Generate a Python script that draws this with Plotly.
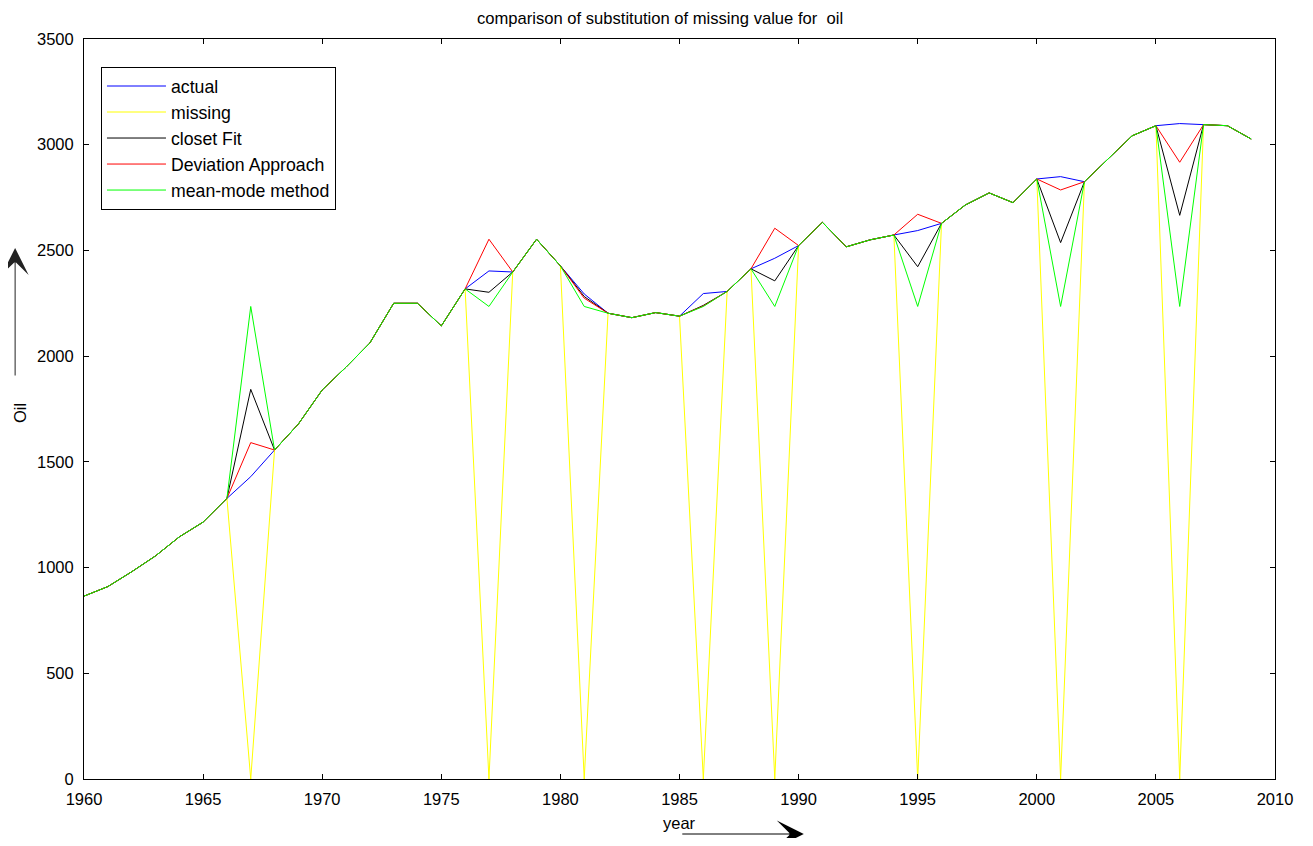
import plotly.graph_objects as go

years = list(range(1960, 2010))
actual = [865, 910, 980, 1055, 1145, 1215, 1327, 1430, 1556, 1679,
          1840, 1948, 2062, 2250, 2250, 2143, 2318, 2403, 2398, 2553,
          2427, 2294, 2203, 2182, 2206, 2189, 2296, 2306, 2413, 2463,
          2523, 2633, 2517, 2550, 2573, 2594, 2628, 2715, 2772, 2726,
          2838, 2849, 2825, 2936, 3042, 3090, 3100, 3095, 3090, 3027]
missing_years = [1967, 1977, 1981, 1986, 1989, 1995, 2001, 2006]
closet_fit_est = [1843, 2302, 2282, 2240, 2356, 2423, 2537, 2666]
deviation_est = [1591, 2553, 2274, 2237, 2605, 2671, 2786, 2917]
mean_mode_est = [2235, 2235, 2235, 2235, 2235, 2235, 2235, 2235]


def fill(estimates):
    vals = list(actual)
    for yr, v in zip(missing_years, estimates):
        vals[years.index(yr)] = v
    return vals


series = [
    ("actual", actual, "#0000FF"),
    ("missing", fill([0] * len(missing_years)), "#FFFF00"),
    ("closet Fit", fill(closet_fit_est), "#000000"),
    ("Deviation Approach", fill(deviation_est), "#FF0000"),
    ("mean-mode method", fill(mean_mode_est), "#00FF00"),
]

FONT = "Liberation Sans, Arial, sans-serif"
fig = go.Figure()
for name, vals, col in series:
    fig.add_trace(go.Scatter(x=years, y=vals, mode="lines", name=name,
                             line=dict(color=col, width=1)))

# page has an 8px body margin; figure sized to fit the window
OFF = 8
W, H = 1313 - 2 * OFF, 846 - 2 * OFF
# plot area in page pixels
P_L, P_R, P_T, P_B = 84, 1277, 39, 779
L, T = P_L - OFF, P_T - OFF
R = W - (P_R - OFF)
B = H - (P_B - OFF)
pw, ph = P_R - P_L, P_B - P_T


def px2paper(px, py):
    return (px - P_L) / pw, (P_B - py) / ph


lx, ly = px2paper(101, 67)
fig.update_layout(
    width=W, height=H,
    margin=dict(l=L, r=R, t=T, b=B),
    paper_bgcolor="white", plot_bgcolor="white",
    font=dict(family=FONT, size=16.5, color="black"),
    title=dict(text="comparison of substitution of missing value for&nbsp;&nbsp;oil",
               x=(661 - P_L) / pw, xref="paper", xanchor="center",
               y=1 - (18 - OFF) / H, yref="container", yanchor="middle",
               font=dict(family=FONT, size=16.6, color="black")),
    showlegend=True,
    legend=dict(x=lx, y=ly, xanchor="left", yanchor="top",
                bgcolor="white", bordercolor="black", borderwidth=1,
                font=dict(family=FONT, size=17.7, color="black"),
                itemwidth=59, traceorder="normal"),
    xaxis=dict(range=[1960, 2010], tickmode="linear", tick0=1960, dtick=5,
               ticks="inside", ticklen=5, tickcolor="black",
               showline=True, linecolor="black", linewidth=1, mirror="ticks",
               showgrid=False, zeroline=False, ticklabelstandoff=5,
               tickfont=dict(family=FONT, size=16.5, color="black")),
    yaxis=dict(range=[0, 3500], tickmode="linear", tick0=0, dtick=500,
               ticks="inside", ticklen=5, tickcolor="black",
               showline=True, linecolor="black", linewidth=1, mirror="ticks",
               showgrid=False, zeroline=False, ticklabelstandoff=6,
               tickfont=dict(family=FONT, size=16.5, color="black")),
)

# axis labels
yx, yy = px2paper(681, 823)
fig.add_annotation(text="year", xref="paper", yref="paper", x=yx, y=yy,
                   xanchor="center", yanchor="middle", showarrow=False,
                   font=dict(family=FONT, size=16.5, color="black"))
ox, oy = px2paper(20, 413)
fig.add_annotation(text="Oil", xref="paper", yref="paper", x=ox, y=oy,
                   textangle=-90, xanchor="center", yanchor="middle", showarrow=False,
                   font=dict(family=FONT, size=16.5, color="black"))
# arrows
hx, hy = px2paper(805, 834)
fig.add_annotation(text="", xref="paper", yref="paper", x=hx, y=hy,
                   ax=-123, ay=0, showarrow=True, arrowhead=3, arrowsize=4.5,
                   arrowwidth=1, arrowcolor="black")
vx, vy = px2paper(15, 248)
fig.add_annotation(text="", xref="paper", yref="paper", x=vx, y=vy,
                   ax=0, ay=129, showarrow=True, arrowhead=3, arrowsize=4.5,
                   arrowwidth=1, arrowcolor="#222222")

fig.write_html("out.html")
